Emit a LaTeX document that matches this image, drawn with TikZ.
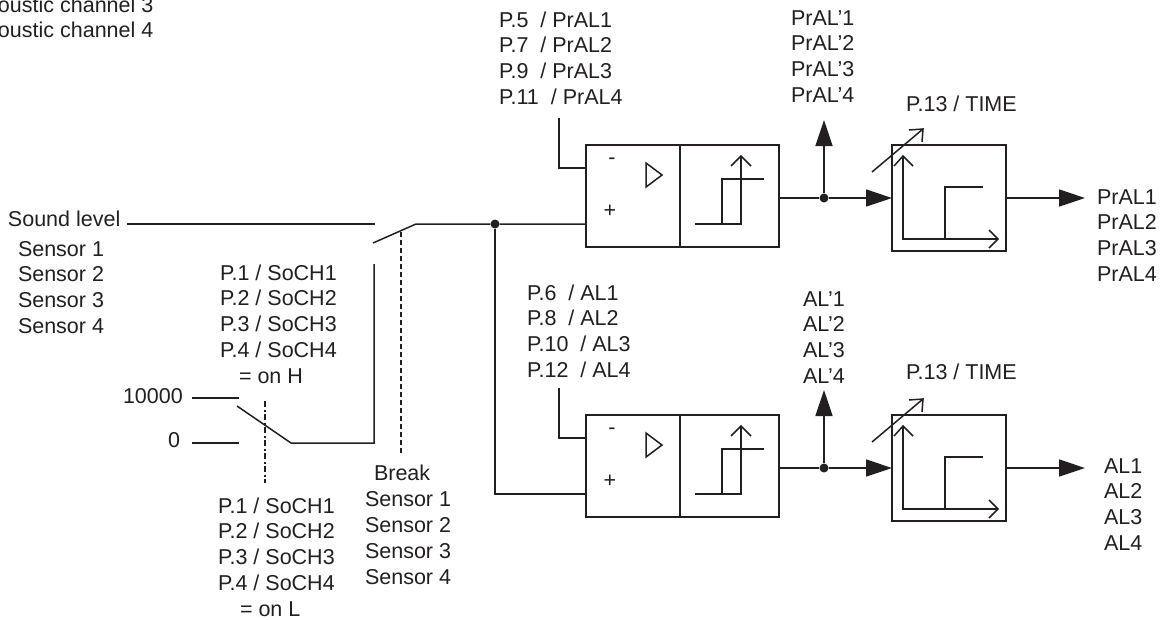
\documentclass[tikz,border=0pt]{standalone}
\usepackage{fontspec}
\setmainfont{Liberation Sans}
\usetikzlibrary{arrows.meta}
\definecolor{ink}{HTML}{231F20}
\tikzset{
  txt/.style={anchor=base west,inner sep=0pt,outer sep=0pt,text=ink,font=\fontsize{21.5}{24}\selectfont},
  ln/.style={draw=ink,line width=1.5pt},
  boxn/.style={draw=ink,line width=1.5pt,fill=none,rectangle,inner sep=0pt,outer sep=0pt},
  fat/.style={draw=ink,line width=1.5pt,-{Triangle[length=26pt,width=17pt,fill=ink]}},
  dotn/.style={circle,fill=ink,inner sep=0pt,minimum size=9pt},
  sw/.style={draw=ink,line width=1.5pt,dash pattern=on 5pt off 3pt},
  swd/.style={draw=ink,line width=1.5pt,dash pattern=on 6pt off 2.5pt on 2pt off 2.5pt},
}
\newcommand{\txtcol}[5]{% prefix, x, y0, dy, list
  \foreach \t [count=\i from 0] in {#5}{
    \node[txt] (#1\i) at (#2,{#3+\i*#4}) {\t};
  }}
\newcommand{\stage}[2]{% prefix, dy
\begin{scope}[shift={(0,#2)}]
  \node[boxn,minimum width=94pt,minimum height=102pt] (#1A) at (633,196) {};
  \node[boxn,minimum width=99pt,minimum height=102pt] (#1B) at (729.5,196) {};
  \node[boxn,minimum width=114pt,minimum height=106pt] (#1T) at (949,198) {};
  \coordinate (#1minus) at (586,168);
  \coordinate (#1plus) at (586,224);
  \coordinate (#1top) at (559,118);
  \coordinate (#1out) at (779,198);
  \coordinate (#1alt) at (824,120);
  \coordinate (#1tin) at (892,198);
  \coordinate (#1tout) at (1006,198);
  \coordinate (#1end) at (1085,198);
  \node[dotn] (#1dot) at (824,198) {};
  \draw[ln] (#1top) |- (#1minus);
  \draw[ln] (#1out) -- (#1dot);
  \draw[fat] (#1dot) -- (#1alt);
  \draw[fat] (#1dot) -- (#1tin);
  \draw[fat] (#1tout) -- (#1end);
  \node[txt,anchor=center] (#1m) at (612,161) {-};
  \node[txt,anchor=center] (#1p) at (610,211) {+};
  \draw[ln,line join=miter] (646,163) -- (646,187) -- (662,175) -- cycle;
  % hysteresis
  \draw[ln] (695,224) -- (741,224) -- (741,156);
  \draw[ln] (731,166) -- (741,156) -- (751,166);
  \draw[ln] (722,224) -- (722,179) -- (764,179);
  % timer
  \draw[ln] (872,172) -- (923,129);
  \draw[ln] (909,130) -- (923,129) -- (922,142);
  \draw[ln] (903,156) -- (903,239) -- (998,239);
  \draw[ln] (894,166) -- (903,156) -- (913,166);
  \draw[ln] (989,230) -- (998,239) -- (989,248);
  \draw[ln] (945,239) -- (945,187) -- (983,187);
\end{scope}}
\begin{document}
\begin{tikzpicture}[x=1pt,y=-1pt]
\useasboundingbox (0,0) rectangle (1162,619);
\stage{u}{0}
\stage{l}{270}
\txtcol{ch}{-2}{12}{25}{oustic channel 3,oustic channel 4}
\node[txt] (sl) at (8,226) {Sound level};
\txtcol{sa}{18}{256}{25.7}{Sensor 1,Sensor 2,Sensor 3,Sensor 4}
\txtcol{pa}{220}{280}{25.7}{P.1 / SoCH1,P.2 / SoCH2,P.3 / SoCH3,P.4 / SoCH4}
\node[txt] (onh) at (239,383) {= on H};
\node[txt] (hi) at (123,403) {10000};
\node[txt] (lo) at (168,447) {0};
\node[txt] (brk) at (374,480) {Break};
\txtcol{sb}{365}{506}{26}{Sensor 1,Sensor 2,Sensor 3,Sensor 4}
\txtcol{pb}{218}{513}{25.7}{P.1 / SoCH1,P.2 / SoCH2,P.3 / SoCH3,P.4 / SoCH4}
\node[txt] (onl) at (240,616) {= on L};
\txtcol{pu}{499}{27}{25.7}{P.5\ \ / PrAL1,P.7\ \ / PrAL2,P.9\ \ / PrAL3,P.11\ \ / PrAL4}
\txtcol{qu}{791}{25}{25.7}{PrAL'1,PrAL'2,PrAL'3,PrAL'4}
\node[txt] (tu) at (906,111) {P.13 / TIME};
\txtcol{ou}{1097}{204}{25.7}{PrAL1,PrAL2,PrAL3,PrAL4}
\txtcol{pl}{527}{300}{25.7}{P.6\ \ / AL1,P.8\ \ / AL2,P.10\ \ / AL3,P.12\ \ / AL4}
\txtcol{ql}{803}{306}{25.7}{AL'1,AL'2,AL'3,AL'4}
\node[txt] (tl) at (906,379) {P.13 / TIME};
\txtcol{ol}{1104}{473}{25.7}{AL1,AL2,AL3,AL4}
% input
\coordinate (in) at (127,224);
\coordinate (swa) at (375,224);
\coordinate (swb) at (373,243);
\coordinate (swc) at (416,224);
\node[dotn] (j) at (495,224) {};
\draw[ln] (in) -- (swa);
\draw[ln] (swb) -- (swc) -- (j) -- (uplus);
\draw[ln] (j) |- (lplus);
\coordinate (da) at (401,232);
\coordinate (db) at (401,453);
\draw[sw] (da) -- (db);
\coordinate (v1) at (374,264);
\coordinate (v2) at (374,443);
\coordinate (v3) at (291,443);
\coordinate (v4) at (237,406);
\draw[ln] (v1) -- (v2) -- (v3) -- (v4);
\coordinate (h1a) at (192,398); \coordinate (h1b) at (239,398);
\coordinate (h0a) at (192,443); \coordinate (h0b) at (239,443);
\draw[ln] (h1a) -- (h1b);
\draw[ln] (h0a) -- (h0b);
\coordinate (dd1) at (265,401); \coordinate (dd2) at (265,483);
\draw[swd] (dd1) -- (dd2);
\end{tikzpicture}
\end{document}
